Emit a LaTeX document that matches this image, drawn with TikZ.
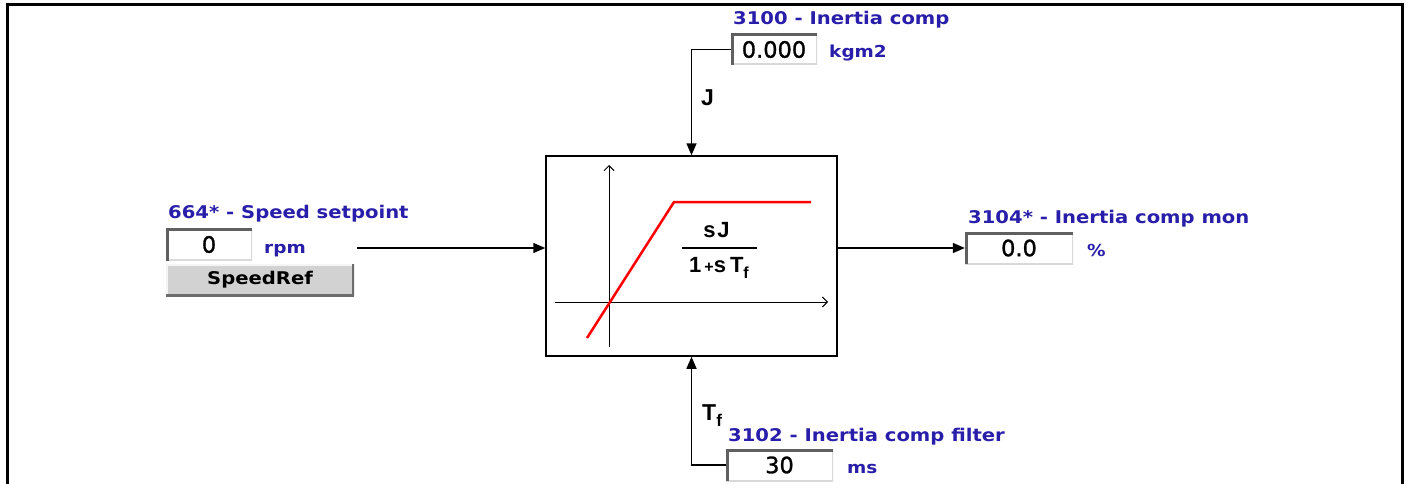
\documentclass[tikz,border=0pt]{standalone}
\usepackage{fontspec}
\setmainfont{DejaVu Sans}
\newfontfamily\lblfont[UprightFont={* Bold},FakeStretch=1.12]{DejaVu Sans}
\newfontfamily\valfont[FakeBold=1.2]{DejaVu Sans}
\newfontfamily\arialfont[UprightFont={* Bold}]{Liberation Sans}
\usetikzlibrary{arrows.meta}
\definecolor{lblc}{RGB}{40,30,170}
\begin{document}
\begin{tikzpicture}[x=1pt,y=-1pt,
  lbl/.style={font=\lblfont\fontsize{17.5}{20}\selectfont, text=lblc, anchor=base west, inner sep=0pt},
  unitlbl/.style={lbl, font=\lblfont\fontsize{16.5}{20}\selectfont},
  valbox/.style={inner sep=0pt, fill=white, font=\valfont\fontsize{22.5}{24}\selectfont,
    path picture={
      \draw[line width=3pt, gray!30] (path picture bounding box.south west) -- (path picture bounding box.south east) -- (path picture bounding box.north east);
      \draw[line width=5pt, gray!75!black] (path picture bounding box.south west) -- (path picture bounding box.north west) -- (path picture bounding box.north east);}},
  btn/.style={inner sep=0pt, fill=gray!35, font=\lblfont\fontsize{17.5}{20}\selectfont,
    path picture={
      \draw[line width=3pt, gray!8] (path picture bounding box.south west) -- (path picture bounding box.north west) -- (path picture bounding box.north east);
      \draw[line width=4pt, gray!85!black] (path picture bounding box.south west) -- (path picture bounding box.south east) -- (path picture bounding box.north east);}},
  sym/.style={font=\arialfont\fontsize{23}{26}\selectfont, inner sep=0pt},
  frac/.style={font=\arialfont\fontsize{22}{24}\selectfont, inner sep=0pt},
  arr/.style={line width=1.5pt, -{Triangle[length=12pt,width=10pt]}},
  axis/.style={line width=1pt, -{Straight Barb[length=5pt,width=10pt]}},
]
\useasboundingbox (0,0) rectangle (1410,484);
% outer frame
\draw[line width=3pt] (7,484) -- (7,4.5) -- (1402,4.5) -- (1402,484);

% main block
\node[draw, line width=1.5pt, minimum width=291pt, minimum height=200pt, inner sep=0pt] (blk) at (691.5,256) {};
\draw[axis] (609,347) -- (609,165);
\draw[axis] (555,302) -- (828,302);
\draw[red, line width=2.5pt] (587,338) -- (674,202) -- (811,202);
\node[frac, anchor=base] (num) at (716.5,237) {s\kern2pt J};
\draw[line width=1.5pt] (682,248) -- (757,248);
\node[frac, anchor=base west] (den) at (689,272)
  {1\kern3pt{\fontsize{16}{16}\selectfont+}s\kern4pt T\raisebox{-6pt}{\fontsize{16}{16}\selectfont f}};

% top input J
\node[lbl] (jt) at (733,25) {3100 - Inertia comp};
\node[valbox, minimum width=86pt, minimum height=31pt] (jbox) at (774,49.5) {0.000};
\node[unitlbl] (ju) at (829,58) {kgm2};
\draw[arr] (jbox.west) -| (blk.north);
\node[sym, anchor=base west] (jl) at (701,106) {J};

% left input
\node[lbl] (st) at (168,218) {664* - Speed setpoint};
\node[valbox, minimum width=86pt, minimum height=32pt] (sbox) at (209,244.5) {0};
\node[unitlbl] (su) at (264,253) {rpm};
\node[btn, minimum width=188pt, minimum height=32pt] (sbtn) at (260,280) {SpeedRef};
\coordinate (inL) at (357,248);
\draw[arr] (inL) -- (inL -| blk.west);

% output
\node[lbl] (ot) at (968,223) {3104* - Inertia comp mon};
\node[valbox, minimum width=108pt, minimum height=32pt] (obox) at (1019,248) {0.0};
\node[unitlbl] (ou) at (1087,256) {\%};
\draw[arr] (obox.west -| blk.east) -- (obox.west);

% bottom input Tf
\node[sym, anchor=base west] (tfl) at (702,420) {T\raisebox{-6pt}{\fontsize{17}{17}\selectfont f}};
\node[lbl] (ft) at (728,441) {3102 - Inertia comp filter};
\node[valbox, minimum width=107pt, minimum height=32pt] (fbox) at (779.5,465) {30};
\node[unitlbl] (fu) at (847,473) {ms};
\draw[arr] (fbox.west) -| (blk.south);
\end{tikzpicture}
\end{document}
